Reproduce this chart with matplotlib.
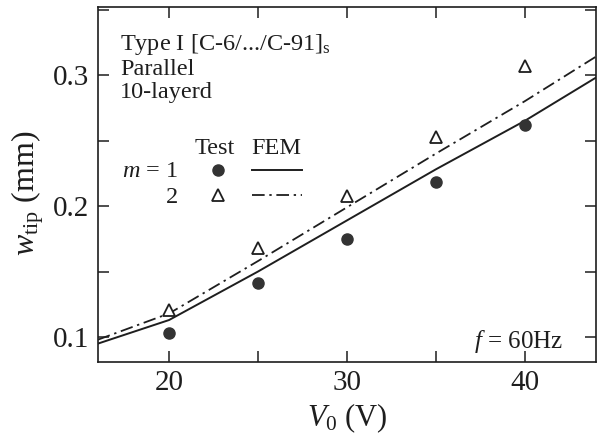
"""
Tip deflection vs applied voltage, Type I laminate, parallel 10-layered.
Test points (m = 1, 2) against FEM curves.
"""
import matplotlib

matplotlib.use("Agg")
import matplotlib.pyplot as plt
from matplotlib.lines import Line2D
from matplotlib.ticker import MultipleLocator, NullFormatter

plt.rcParams["font.family"] = ["Liberation Serif", "DejaVu Serif"]
plt.rcParams["mathtext.fontset"] = "custom"
plt.rcParams["mathtext.rm"] = "Liberation Serif"
plt.rcParams["mathtext.it"] = "Liberation Serif:italic"

INK = "#1e1e1e"

# ── Data ─────────────────────────────────────────────────────────────────────
test_v = [20, 25, 30, 35, 40]
test_m1 = [0.103, 0.141, 0.175, 0.218, 0.262]
test_m2 = [0.121, 0.168, 0.208, 0.253, 0.307]

fem_v = [16, 20, 25, 30, 35, 40, 44]
fem_m1 = [0.095, 0.113, 0.150, 0.189, 0.228, 0.265, 0.298]
fem_m2 = [0.098, 0.118, 0.158, 0.199, 0.240, 0.280, 0.314]

x_ticks = [20, 30, 40]
y_ticks = [0.1, 0.2, 0.3]

info_lines = [r"Type I [C-6/.../C-91]$_{\rm s}$", "Parallel", "10-layerd"]

DASHDOT = (0, (7, 2.6, 1.3, 2.6))
FS = 17.5

# ── Figure ───────────────────────────────────────────────────────────────────
fig = plt.figure(figsize=(5.97, 4.34), dpi=100)
ax = fig.add_axes([0.164, 0.166, 0.834, 0.818])

ax.plot(fem_v, fem_m1, color=INK, lw=1.4, ls="-")
ax.plot(fem_v, fem_m2, color=INK, lw=1.3, ls=DASHDOT)
ax.plot(test_v, test_m1, ls="none", marker="o", ms=8, color="#333333", mec="#333333")
ax.plot(test_v, test_m2, ls="none", marker="^", ms=8, mfc="white", mec=INK, mew=1.3)

ax.set_xlim(16, 44)
ax.set_ylim(0.081, 0.352)
ax.set_xticks(x_ticks)
ax.set_yticks(y_ticks)
ax.set_yticklabels([f"{t:.1f}" for t in y_ticks])
ax.xaxis.set_minor_locator(MultipleLocator(5))
ax.yaxis.set_minor_locator(MultipleLocator(0.05))
ax.xaxis.set_minor_formatter(NullFormatter())
ax.yaxis.set_minor_formatter(NullFormatter())
ax.tick_params(which="both", direction="in", top=True, right=True,
               length=8, width=1.1, color=INK, labelsize=21, labelcolor=INK, pad=6)
for s in ax.spines.values():
    s.set_linewidth(1.2)
    s.set_color(INK)

ax.set_xlabel(r"$\mathit{V}_{0}$ (V)", fontsize=22, color=INK, labelpad=4)
ax.set_ylabel(r"$\mathit{w}_{\rm tip}$ (mm)", fontsize=23, color=INK)
ax.yaxis.set_label_coords(-0.104, 0.475)

# ── Annotations ──────────────────────────────────────────────────────────────
for txt, yb in zip(info_lines, [0.879, 0.808, 0.744]):
    ax.text(0.045, yb, txt, transform=ax.transAxes, fontsize=FS, color=INK,
            va="baseline")
ax.text(0.934, 0.039, r"$\mathit{f}$ = 60Hz", transform=ax.transAxes,
        fontsize=18, color=INK, ha="right", va="baseline")

# hand-built legend: Test / FEM columns
ax.text(0.195, 0.586, "Test", transform=ax.transAxes, fontsize=FS, color=INK,
        va="baseline")
ax.text(0.309, 0.586, "FEM", transform=ax.transAxes, fontsize=FS, color=INK,
        va="baseline")
ax.text(0.161, 0.521, r"$\mathit{m}$ = 1", transform=ax.transAxes, fontsize=FS,
        color=INK, ha="right", va="baseline")
ax.text(0.161, 0.448, "2", transform=ax.transAxes, fontsize=FS,
        color=INK, ha="right", va="baseline")
ax.add_line(Line2D([0.241], [0.541], transform=ax.transAxes, ls="none",
                   marker="o", ms=8, color="#333333"))
ax.add_line(Line2D([0.241], [0.470], transform=ax.transAxes, ls="none",
                   marker="^", ms=8, mfc="white", mec=INK, mew=1.3))
ax.add_line(Line2D([0.309, 0.41], [0.541, 0.541], transform=ax.transAxes,
                   color=INK, lw=1.4))
ax.add_line(Line2D([0.309, 0.41], [0.470, 0.470], transform=ax.transAxes,
                   color=INK, lw=1.3, ls=DASHDOT))

fig.savefig("out.png", dpi=100)
plt.close(fig)
